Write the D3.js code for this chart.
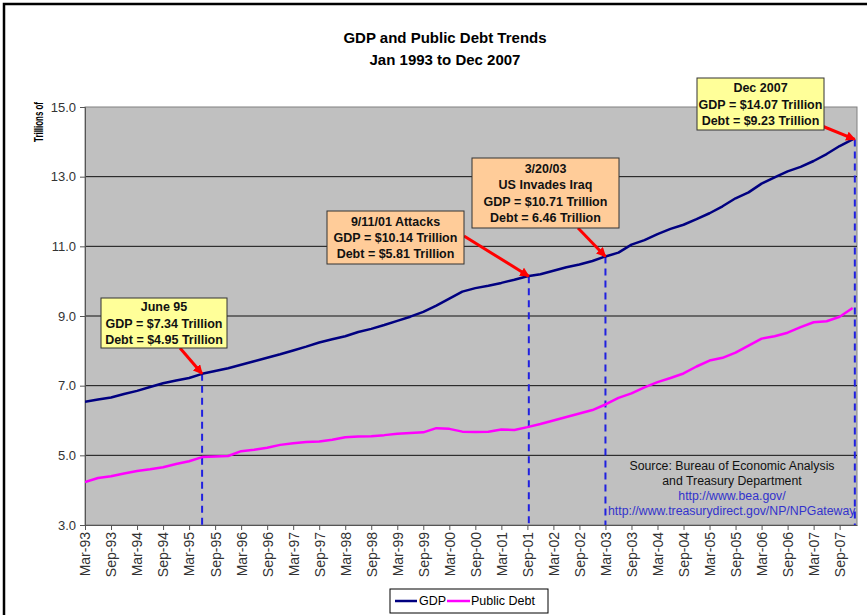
<!DOCTYPE html>
<html><head><meta charset="utf-8">
<script src="https://cdn.jsdelivr.net/npm/d3@7"></script>
<style>body{margin:0;background:#fff;}svg{display:block;}</style>
</head><body>
<svg id="chart" width="867" height="615"></svg>
<script>
// ---- DATA ----
const quarters = [
 "Mar-93","Jun-93","Sep-93","Dec-93","Mar-94","Jun-94","Sep-94","Dec-94",
 "Mar-95","Jun-95","Sep-95","Dec-95","Mar-96","Jun-96","Sep-96","Dec-96",
 "Mar-97","Jun-97","Sep-97","Dec-97","Mar-98","Jun-98","Sep-98","Dec-98",
 "Mar-99","Jun-99","Sep-99","Dec-99","Mar-00","Jun-00","Sep-00","Dec-00",
 "Mar-01","Jun-01","Sep-01","Dec-01","Mar-02","Jun-02","Sep-02","Dec-02",
 "Mar-03","Jun-03","Sep-03","Dec-03","Mar-04","Jun-04","Sep-04","Dec-04",
 "Mar-05","Jun-05","Sep-05","Dec-05","Mar-06","Jun-06","Sep-06","Dec-06",
 "Mar-07","Jun-07","Sep-07","Dec-07"];
const gdp = [
 6.54,6.60,6.66,6.76, 6.85,6.96,7.07,7.15,
 7.22,7.34,7.42,7.50, 7.60,7.70,7.80,7.90,
 8.01,8.12,8.24,8.33, 8.42,8.54,8.63,8.74,
 8.86,8.98,9.12,9.30, 9.50,9.70,9.80,9.87,
 9.95,10.04,10.14,10.20, 10.30,10.40,10.48,10.58,
 10.71,10.82,11.05,11.18, 11.35,11.50,11.62,11.78,
 11.95,12.15,12.38,12.55, 12.80,12.98,13.15,13.28,
 13.45,13.65,13.88,14.07];
const debt = [
 4.23,4.35,4.40,4.48, 4.55,4.60,4.66,4.75,
 4.83,4.95,4.97,4.98, 5.12,5.16,5.22,5.30,
 5.35,5.38,5.40,5.45, 5.52,5.54,5.55,5.58,
 5.62,5.64,5.66,5.78, 5.76,5.68,5.67,5.68,
 5.74,5.73,5.81,5.90, 6.00,6.10,6.20,6.30,
 6.46,6.65,6.78,6.95, 7.10,7.22,7.35,7.55,
 7.72,7.80,7.95,8.15, 8.35,8.42,8.52,8.68,
 8.82,8.85,8.98,9.23];
const xTickLabels = [
 "Mar-93","Sep-93","Mar-94","Sep-94","Mar-95","Sep-95","Mar-96","Sep-96",
 "Mar-97","Sep-97","Mar-98","Sep-98","Mar-99","Sep-99","Mar-00","Sep-00",
 "Mar-01","Sep-01","Mar-02","Sep-02","Mar-03","Sep-03","Mar-04","Sep-04",
 "Mar-05","Sep-05","Mar-06","Sep-06","Mar-07","Sep-07"];
const yTicks = [3,5,7,9,11,13,15];
// events: months after Mar-93, GDP value, label lines
const eventMonths = [27, 102.33, 120, 177.5];
const eventGdp = [7.34, 10.14, 10.71, 14.07];
const eventText = [
 ["June 95","GDP = $7.34 Trillion","Debt = $4.95 Trillion"],
 ["9/11/01 Attacks","GDP = $10.14 Trillion","Debt = $5.81 Trillion"],
 ["3/20/03","US Invades Iraq","GDP = $10.71 Trillion","Debt = 6.46 Trillion"],
 ["Dec 2007","GDP = $14.07 Trillion","Debt = $9.23 Trillion"]];
const sourceLines = ["Source: Bureau of Economic Analysis","and Treasury Department",
 "http://www.bea.gov/","http://www.treasurydirect.gov/NP/NPGateway"];

// ---- LAYOUT ----
const L = 85, R = 857, T = 107, B = 525;
const monthsOf = s => {
  const m = {Mar:0,Jun:3,Sep:6,Dec:9}[s.slice(0,3)];
  const yy = +s.slice(4); const yr = yy < 50 ? 2000+yy : 1900+yy;
  return (yr-1993)*12 + m;
};
const x = d3.scaleLinear().domain([0,178]).range([L,R]);
const y = d3.scaleLinear().domain([3,15]).range([B,T]);

const svg = d3.select("#chart");
const FONT = "Arial, 'Liberation Sans', sans-serif";

// outer border
svg.append("rect").attr("x",4).attr("y",4).attr("width",900).attr("height",700)
  .attr("fill","none").attr("stroke","#000").attr("stroke-width",2.5);

// title
svg.append("text").attr("x",445).attr("y",43).attr("text-anchor","middle")
  .attr("font-family",FONT).attr("font-weight","bold").attr("font-size",15)
  .text("GDP and Public Debt Trends");
svg.append("text").attr("x",445).attr("y",65).attr("text-anchor","middle")
  .attr("font-family",FONT).attr("font-weight","bold").attr("font-size",15)
  .text("Jan 1993 to Dec 2007");

// plot area
svg.append("rect").attr("x",L).attr("y",T).attr("width",R-L).attr("height",B-T)
  .attr("fill","#c0c0c0").attr("stroke","#808080").attr("stroke-width",1);

svg.append("defs").append("clipPath").attr("id","plotclip")
  .append("rect").attr("x",L).attr("y",T-2).attr("width",R-L).attr("height",B-T+4);

// gridlines
svg.append("g").selectAll("line").data(yTicks.filter(v=>v>3 && v<15)).join("line")
  .attr("x1",L).attr("x2",R).attr("y1",d=>y(d)).attr("y2",d=>y(d))
  .attr("stroke","#111").attr("stroke-width",1);

// y axis
const yAxis = d3.axisLeft(y).tickValues(yTicks).tickFormat(d3.format(".1f")).tickSize(5).tickPadding(4);
const gy = svg.append("g").attr("transform",`translate(${L},0)`).call(yAxis);
gy.select(".domain").attr("stroke","#555");
gy.selectAll(".tick line").attr("stroke","#555");
gy.selectAll("text").attr("font-family",FONT).attr("font-size",13).attr("fill","#333");

// x axis
const xTickVals = xTickLabels.map(monthsOf);
const xAxis = d3.axisBottom(x).tickValues(xTickVals).tickFormat((d,i)=>xTickLabels[i]).tickSize(5).tickSizeOuter(0);
const gx = svg.append("g").attr("transform",`translate(0,${B})`).call(xAxis);
gx.select(".domain").attr("stroke","#555");
gx.selectAll(".tick line").attr("stroke","#555");
gx.selectAll("text").attr("font-family",FONT).attr("font-size",14).attr("fill","#333")
  .attr("transform","rotate(-90)").attr("text-anchor","end")
  .attr("x",-7).attr("y",0).attr("dy","0.35em");

// y axis title
svg.append("text").attr("transform","translate(39,122) rotate(-90)")
  .attr("text-anchor","middle").attr("dy","0.35em").attr("font-family",FONT).attr("font-weight","bold")
  .attr("font-size",12.5).attr("textLength",40).attr("lengthAdjust","spacingAndGlyphs")
  .text("Trillions of");

// source text
const src = svg.append("g").attr("clip-path","url(#plotclip)");
sourceLines.forEach((t,i)=>{
  const last = i===3;
  src.append("text").attr("x", last ? 608 : 732).attr("y",470+i*15)
    .attr("text-anchor", last ? "start" : "middle")
    .attr("font-family",FONT).attr("font-size",12.3)
    .attr("fill", i>=2 ? "#3333cc" : "#111").text(t);
});

// dashed event lines
const plotG = svg.append("g").attr("clip-path","url(#plotclip)");
plotG.selectAll("line.ev").data(eventMonths).join("line").attr("class","ev")
  .attr("x1",d=>x(d)).attr("x2",d=>x(d))
  .attr("y1",(d,i)=>y(eventGdp[i])).attr("y2",B)
  .attr("stroke","#2020e0").attr("stroke-width",2).attr("stroke-dasharray","7,5");

// lines
const lineGen = vals => d3.line().x((d,i)=>x(monthsOf(quarters[i]))).y(d=>y(d))(vals);
plotG.append("path").attr("d",lineGen(debt)).attr("fill","none")
  .attr("stroke","#ff00ff").attr("stroke-width",2.5).attr("stroke-linejoin","round");
plotG.append("path").attr("d",lineGen(gdp)).attr("fill","none")
  .attr("stroke","#000080").attr("stroke-width",2.5).attr("stroke-linejoin","round");

// callouts
svg.append("defs").append("marker").attr("id","arr").attr("viewBox","0 0 10 10")
  .attr("refX",9).attr("refY",5).attr("markerWidth",3.2).attr("markerHeight",3.2)
  .attr("orient","auto").append("path").attr("d","M0,0L10,5L0,10z").attr("fill","#ff0000");

const boxes = [
  {x:101,y:298,w:126,h:50,fill:"#ffff99",ax:180,ay:348},
  {x:327,y:211,w:137,h:53,fill:"#ffcc99",ax:464,ay:236},
  {x:472,y:158,w:147,h:70,fill:"#ffcc99",ax:578,ay:228},
  {x:697,y:78,w:127,h:52,fill:"#ffff99",ax:822,ay:126}
];
boxes.forEach((b,i)=>{
  svg.append("line").attr("x1",b.ax).attr("y1",b.ay)
    .attr("x2",x(eventMonths[i])).attr("y2",y(eventGdp[i]))
    .attr("stroke","#ff0000").attr("stroke-width",3).attr("marker-end","url(#arr)");
});
boxes.forEach((b,i)=>{
  svg.append("rect").attr("x",b.x).attr("y",b.y).attr("width",b.w).attr("height",b.h)
    .attr("fill",b.fill).attr("stroke","#333").attr("stroke-width",1);
  const lines = eventText[i];
  const lh = 16.3;
  const y0 = b.y + b.h/2 - (lines.length-1)*lh/2;
  lines.forEach((t,j)=>{
    svg.append("text").attr("x",b.x+b.w/2).attr("y",y0+j*lh).attr("dy","0.36em")
      .attr("text-anchor","middle").attr("font-family",FONT).attr("font-weight","bold")
      .attr("font-size",12.5).attr("fill","#111").text(t);
  });
});

// legend
const lg = svg.append("g");
lg.append("rect").attr("x",390).attr("y",589).attr("width",158).attr("height",24)
  .attr("fill","#fff").attr("stroke","#000").attr("stroke-width",1);
lg.append("line").attr("x1",395).attr("x2",417).attr("y1",601).attr("y2",601)
  .attr("stroke","#000080").attr("stroke-width",2.5);
lg.append("text").attr("x",419).attr("y",601).attr("dy","0.35em")
  .attr("font-family",FONT).attr("font-size",12.5).text("GDP");
lg.append("line").attr("x1",447).attr("x2",470).attr("y1",601).attr("y2",601)
  .attr("stroke","#ff00ff").attr("stroke-width",2.5);
lg.append("text").attr("x",471).attr("y",601).attr("dy","0.35em")
  .attr("font-family",FONT).attr("font-size",12.5).text("Public Debt");
</script>
</body></html>
